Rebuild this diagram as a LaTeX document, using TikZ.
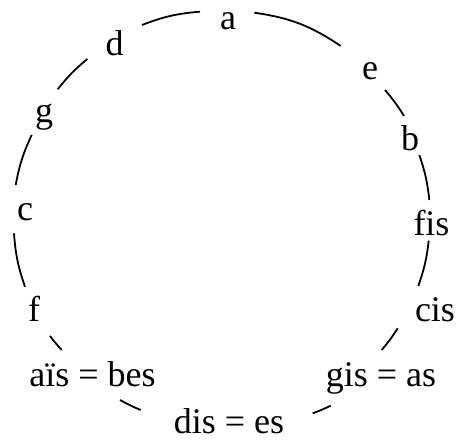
\documentclass[tikz,border=0pt]{standalone}
\usepackage{fontspec}
\setmainfont{Liberation Serif}
\begin{document}
\begin{tikzpicture}[x=1pt,y=1pt,
  lbl/.style={anchor=base,inner sep=0pt,font=\fontsize{36}{40}\selectfont},
  seg/.style={line width=1.8pt}]
\useasboundingbox (0,0) rectangle (456,441);
% labels
\node[lbl] (a) at (228,411) {a};
\node[lbl] (e) at (370,361) {e};
\node[lbl] (b) at (410,290) {b};
\node[lbl] (fis) at (431.5,205.5) {fis};
\node[lbl] (cis) at (435,119.5) {cis};
\node[lbl] (gis) at (381,54) {gis = as};
\node[lbl] (dis) at (229,7) {dis = es};
\node[lbl] (ais) at (92.5,54) {aïs = bes};
\node[lbl] (f) at (34,119.5) {f};
\node[lbl] (c) at (25,220) {c};
\node[lbl] (g) at (44,318) {g};
\node[lbl] (d) at (114.5,385) {d};
% arc end points
\coordinate (da1) at (142,416);   \coordinate (da2) at (200,429.3);
\coordinate (ae1) at (254.3,428.3); \coordinate (ae2) at (340.7,395);
\coordinate (eb1) at (385,351);   \coordinate (eb2) at (404,325);
\coordinate (bf1) at (419.3,286); \coordinate (bf2) at (429.3,241);
\coordinate (fc1) at (428.7,200.3); \coordinate (fc2) at (418.3,155);
\coordinate (cg1) at (397.7,112.7); \coordinate (cg2) at (381.7,91);
\coordinate (gd1) at (330.7,35.3); \coordinate (gd2) at (312.7,27.7);
\coordinate (dA1) at (140.7,31);  \coordinate (dA2) at (120,41);
\coordinate (Af1) at (61.7,91);   \coordinate (Af2) at (50,105);
\coordinate (fC1) at (25,154.3);  \coordinate (fC2) at (14,207.7);
\coordinate (Cg1) at (15.7,256);  \coordinate (Cg2) at (31.7,306);
\coordinate (gD1) at (57.7,351.7); \coordinate (gD2) at (87.3,382);
% arcs
\draw[seg] (da1) to[bend left=8.2] (da2);
\draw[seg] (ae1) to[bend left=12.9] (ae2);
\draw[seg] (eb1) to[bend left=4.4] (eb2);
\draw[seg] (bf1) to[bend left=6.4] (bf2);
\draw[seg] (fc1) to[bend left=6.4] (fc2);
\draw[seg] (cg1) to[bend left=3.7] (cg2);
\draw[seg] (gd1) to[bend left=2.7] (gd2);
\draw[seg] (dA1) to[bend left=3.2] (dA2);
\draw[seg] (Af1) to[bend left=2.5] (Af2);
\draw[seg] (fC1) to[bend left=7.5] (fC2);
\draw[seg] (Cg1) to[bend left=7.2] (Cg2);
\draw[seg] (gD1) to[bend left=5.8] (gD2);
\end{tikzpicture}
\end{document}
